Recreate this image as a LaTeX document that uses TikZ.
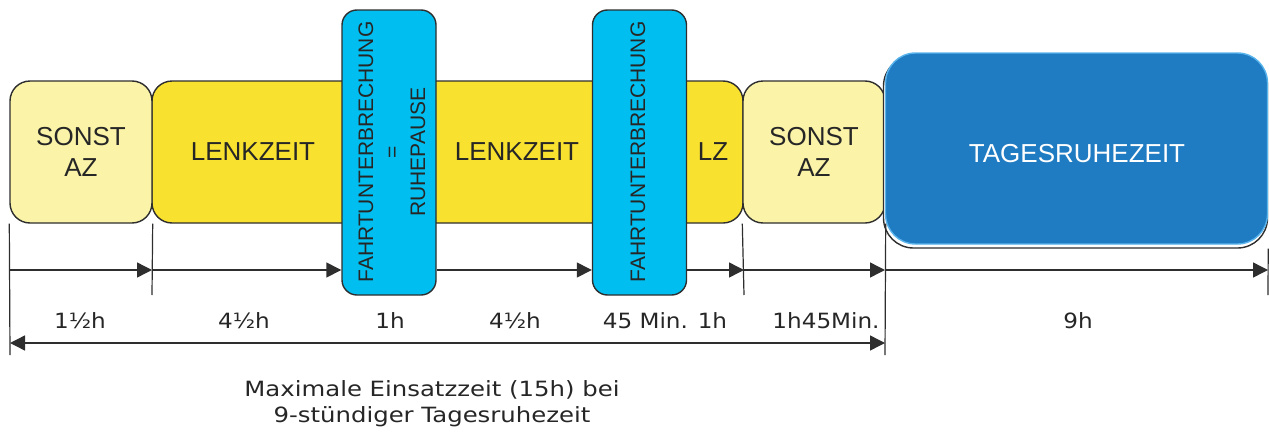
\documentclass[tikz,border=0pt]{standalone}
\usepackage{fontspec}
\usetikzlibrary{arrows.meta}
\newfontfamily\boxfont{Liberation Sans}
\newfontfamily\lblfont[FakeStretch=1.1]{DejaVu Sans}
\newfontfamily\capfont[FakeStretch=1.16]{DejaVu Sans}
\definecolor{ltyel}{HTML}{FAF3A8}
\definecolor{yel}{HTML}{F9E22F}
\definecolor{cyanbox}{HTML}{00BFF0}
\definecolor{bluebox}{HTML}{1F7BC2}
\definecolor{edge}{HTML}{2E2E2E}
\definecolor{glow}{HTML}{5AB4EC}
\tikzset{
  base/.style={rectangle, draw=edge, line width=1.4pt, inner sep=0pt},
  azbox/.style={base, fill=ltyel, rounded corners=20pt, minimum width=142pt, minimum height=142pt, align=center, font=\boxfont\fontsize{26}{31}\selectfont, text=black!85},
  lzbox/.style={base, fill=yel, rounded corners=20pt, minimum width=591pt, minimum height=142pt},
  fubox/.style={base, fill=cyanbox, rounded corners=15pt, minimum width=94pt, minimum height=285pt},
  boxtxt/.style={font=\boxfont\fontsize{26}{31}\selectfont, text=black!85},
  futxt/.style={rotate=90, align=center, font=\boxfont\fontsize{21}{26}\selectfont, text=black!85},
  tick/.style={draw=edge, line width=1.2pt},
  dim/.style={draw=edge, line width=1.4pt, -{Triangle[length=15pt,width=15pt]}},
  dimboth/.style={draw=edge, line width=1.4pt, {Triangle[length=15pt,width=15pt]}-{Triangle[length=15pt,width=15pt]}},
  lbl/.style={font=\lblfont\fontsize{21}{26}\selectfont, text=black!85}
}
\begin{document}
\begin{tikzpicture}[x=1pt,y=-1pt]
\useasboundingbox (0,0) rectangle (1269,434);
% boxes
\node[lzbox] (lz) at (447.5,152) {};
\node[azbox] (s1) at (81,152) {SONST\\AZ};
\node[azbox] (s2) at (814,152) {SONST\\AZ};
\node[fubox] (f1) at (389,152.5) {};
\node[fubox] (f2) at (639.5,152.5) {};
\node[boxtxt] (t1) at (253,152) {LENKZEIT};
\node[boxtxt] (t2) at (517,152) {LENKZEIT};
\node[boxtxt] (t3) at (713,152) {LZ};
\node[futxt] (ft1) at (392,152) {FAHRTUNTERBRECHUNG\\=\\RUHEPAUSE};
\node[futxt] (ft2) at (638,152) {FAHRTUNTERBRECHUNG};
% Tagesruhezeit
\node[base, fill=white, rounded corners=30pt, minimum width=384pt, minimum height=192pt] (trb) at (1075.5,152) {};
\node[rectangle, draw=glow, line width=1.4pt, fill=bluebox, rounded corners=30pt, minimum width=382pt, minimum height=191pt, inner sep=0pt] (tr) at (1076.5,148.5) {};
\node[boxtxt, text=white] (trt) at (1077,154) {TAGESRUHEZEIT};
% coordinates
\coordinate (a0) at (10,270);
\coordinate (a1) at (152,270);
\coordinate (a4) at (744,270);
\coordinate (a5) at (885,270);
\coordinate (a6) at (1268,270);
\coordinate (b0) at (10,343);
\coordinate (b1) at (885,343);
% ticks
\draw[tick] (s1.south west) -- (10,355);
\draw[tick] (s1.south east) -- (152,295);
\draw[tick] (s2.south west) -- (744,295);
\draw[tick] (s2.south east) -- (885,355);
\draw[tick] (trb.south east) -- (1268,295);
% arrows
\draw[dim] (a0) -- (a1);
\draw[dim] (a1) -- (f1.west |- a1);
\draw[dim] (f1.east |- a1) -- (f2.west |- a1);
\draw[dim] (f2.east |- a1) -- (a4);
\draw[dim] (a4) -- (a5);
\draw[dim] (a5) -- (a6);
\draw[dimboth] (b0) -- (b1);
% labels
\node[lbl] (l1) at (80,321) {1½h};
\node[lbl] (l2) at (244,321) {4½h};
\node[lbl] (l3) at (390,321) {1h};
\node[lbl] (l4) at (515,321) {4½h};
\node[lbl] (l5) at (665,321) {45 Min. 1h};
\node[lbl] (l6) at (826,321) {1h45Min.};
\node[lbl] (l7) at (1078,321) {9h};
\node[align=center, font=\capfont\fontsize{21}{26}\selectfont, text=black!85] (cap) at (432,404) {Maximale Einsatzzeit (15h) bei\\9-stündiger Tagesruhezeit};
\end{tikzpicture}
\end{document}
